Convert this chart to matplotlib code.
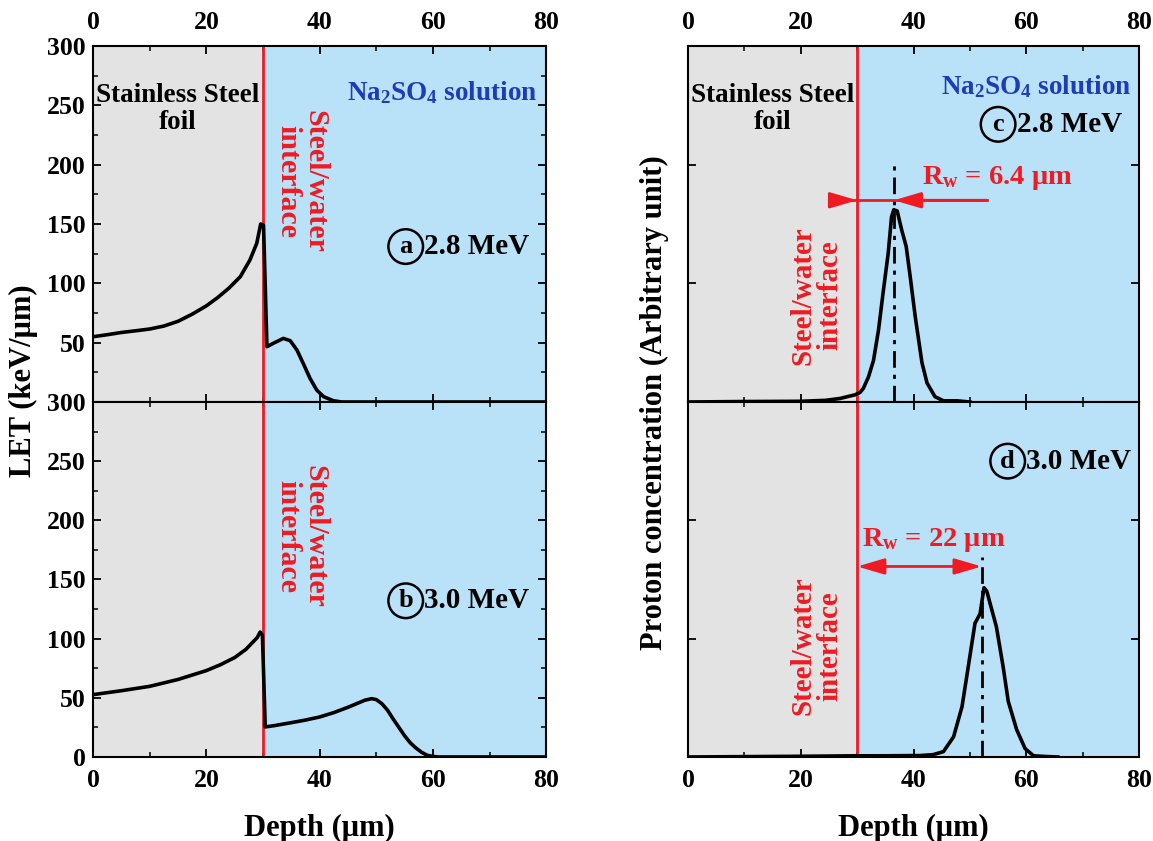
import numpy as np
import matplotlib.pyplot as plt
from matplotlib.ticker import MultipleLocator

plt.rcParams['font.family'] = ['Liberation Serif', 'DejaVu Serif']
plt.rcParams['font.weight'] = 'bold'
plt.rcParams['mathtext.fontset'] = 'custom'
plt.rcParams['mathtext.rm'] = 'Liberation Serif:bold'
plt.rcParams['mathtext.it'] = 'Liberation Serif:bold'
plt.rcParams['mathtext.bf'] = 'Liberation Serif:bold'
plt.rcParams['mathtext.default'] = 'bf'

# LET curves (keV/um) vs depth (um)
let_a_x = [0, 2.5, 5, 7.5, 10, 12.5, 15, 17.5, 20, 22, 24, 26, 27.7, 28.9, 29.6, 30.1, 30.7,
           31.8, 33.6, 34.8, 36.0, 37.1, 38.3, 39.5, 40.7, 42.4, 43.9, 80]
let_a_y = [55, 56.7, 58.6, 60, 61.5, 64, 68, 74, 81, 88, 96, 105.6, 119.7, 133.7, 150, 149, 46.6,
           49.4, 53.6, 51.7, 43.8, 32.6, 20, 10, 4.5, 1.1, 0, 0]
let_b_x = [0, 5, 10, 15, 20, 22.5, 25, 27, 28, 29, 29.5, 29.9, 30.4, 32, 35, 37.5, 40, 42.5, 45,
           47, 48, 49.2, 50, 51, 52, 53, 54, 55, 56, 57, 58, 59, 60, 61, 80]
let_b_y = [52.7, 56, 59.7, 65.5, 73, 78, 84, 91, 96, 101, 105.6, 103, 25.4, 26.5, 29, 31.2, 33.8, 37.5, 42,
           46, 48, 49.3, 48.5, 45, 39.5, 32, 25, 18, 12, 7.6, 4, 1.4, 0.5, 0, 0]

# proton concentration (arbitrary unit)
conc_c_x = [0, 10, 20, 24.4, 27.0, 28.7, 29.6, 30.5, 31.1, 32.0, 32.9, 33.8, 34.6, 35.5, 36.1, 36.5,
            37.1, 37.9, 38.7, 39.4, 40.3, 41.5, 42.4, 43.8, 45.3, 47.7, 50]
conc_c_y = [0, 0.004, 0.006, 0.014, 0.03, 0.05, 0.06, 0.08, 0.115, 0.21, 0.35, 0.61, 0.92, 1.25, 1.56, 1.62,
            1.61, 1.45, 1.31, 1.06, 0.72, 0.33, 0.16, 0.045, 0.01, 0.01, 0]
conc_d_x = [0, 10, 20, 30, 35, 40, 41.2, 43.5, 45.3, 47.1, 48.6, 49.7, 50.9, 51.8, 52.5, 53.0, 54.7,
            55.9, 56.8, 58.3, 59.8, 61.3, 63.5, 65.6]
conc_d_y = [0, 0.003, 0.006, 0.01, 0.01, 0.012, 0.012, 0.02, 0.045, 0.17, 0.425, 0.76, 1.13, 1.21, 1.43, 1.40,
            1.10, 0.76, 0.47, 0.23, 0.07, 0.01, 0.004, 0]

interface = 30
peak_c = 36.5
peak_d = 52.1
labels_let = [('a', '2.8 MeV'), ('b', '3.0 MeV')]
labels_conc = [('c', '2.8 MeV'), ('d', '3.0 MeV')]

gray = '#e3e3e3'
blue = '#b9e2f8'
red = '#f01a22'
navy = '#1f3cb8'

fig = plt.figure(figsize=(11.53, 8.41), dpi=100)
L, R = 0.0807, 0.5967
W = 0.393
ax_a = fig.add_axes([L, 0.522, W, 0.4233])
ax_b = fig.add_axes([L, 0.0999, W, 0.4221])
ax_c = fig.add_axes([R, 0.522, 0.3912, 0.4233])
ax_d = fig.add_axes([R, 0.0999, 0.3912, 0.4221])


def style(ax, top):
    ax.set_xlim(0, 80)
    ax.axvspan(0, interface, color=gray, zorder=0, lw=0)
    ax.axvspan(interface, 80, color=blue, zorder=0, lw=0)
    ax.axvline(interface, color=red, lw=2, zorder=2)
    ax.xaxis.set_major_locator(MultipleLocator(20))
    ax.xaxis.set_minor_locator(MultipleLocator(10))
    ax.tick_params(which='both', direction='in', top=True, right=True, bottom=True, left=True,
                   labelsize=18.5, labeltop=top, labelbottom=not top)
    ax.tick_params(axis='x', which='major', pad=9)
    ax.tick_params(axis='y', which='major', pad=5)
    ax.tick_params(which='major', length=6, width=1.3)
    ax.tick_params(which='minor', length=3.5, width=1.1)
    for s in ax.spines.values():
        s.set_linewidth(1.5)
    for lab in ax.get_xticklabels() + ax.get_yticklabels():
        lab.set_fontweight('bold')


def circled(ax, x, y, letter, txt):
    ax.text(x, y, letter, fontsize=19, ha='center', va='center', zorder=5,
            bbox=dict(boxstyle='circle,pad=0.22', fc='none', ec='black', lw=1.8))
    ax.text(x + 3.3, y, txt, fontsize=21, ha='left', va='center', zorder=5)


# LET panels
for ax, xs, ys, top, (let, en), ybadge in [(ax_a, let_a_x, let_a_y, True, labels_let[0], 131),
                                           (ax_b, let_b_x, let_b_y, False, labels_let[1], 132)]:
    style(ax, top)
    ax.plot(xs, ys, color='black', lw=2.6, zorder=3)
    ax.set_ylim(0, 300)
    ax.set_yticks(range(0, 301, 50))
    ax.yaxis.set_minor_locator(MultipleLocator(25))
    if top:
        ax.set_yticklabels([''] + [str(v) for v in range(50, 301, 50)])
    for lab in ax.get_yticklabels():
        lab.set_fontweight('bold')
    ax.text(36.8, 186, 'Steel/water\ninterface', fontsize=21.5, ha='center', va='center',
            rotation=-90, color=red, linespacing=1.0, zorder=5)
    circled(ax, 55.2, ybadge, let, en)

ax_a.text(15, 247, 'Stainless Steel\nfoil', fontsize=19.5, ha='center', va='center',
          linespacing=1.1, zorder=5)
ax_a.text(78.5, 261, 'Na$_2$SO$_4$ solution', fontsize=19.5, ha='right', va='center',
          color=navy, zorder=5)

fig.text(0.2771, 0.0155, 'Depth (μm)', fontsize=22, fontweight='bold', ha='center', va='center')
fig.text(0.0205, 0.547, 'LET (keV/μm)', rotation=90, fontsize=22, fontweight='bold',
         ha='center', va='center')

# proton concentration panels
for ax, xs, ys, top, (let, en), xb, yb, yint in [
        (ax_c, conc_c_x, conc_c_y, True, labels_conc[0], 55.0, 2.34, 0.90),
        (ax_d, conc_d_x, conc_d_y, False, labels_conc[1], 56.7, 2.5, 0.94)]:
    style(ax, top)
    ax.plot(xs, ys, color='black', lw=2.6, zorder=3)
    ax.set_ylim(0, 3)
    ax.set_yticks([0, 1, 2, 3])
    ax.set_yticklabels([])
    ax.text(22.8, yint, 'Steel/water\ninterface', fontsize=21, ha='center',
            va='center', rotation=90, color=red, linespacing=1.0, zorder=5)
    circled(ax, xb, yb, let, en)

ax_c.text(15, 2.47, 'Stainless Steel\nfoil', fontsize=19.5, ha='center', va='center',
          linespacing=1.1, zorder=5)
ax_c.text(78.6, 2.66, 'Na$_2$SO$_4$ solution', fontsize=19.5, ha='right', va='center',
          color=navy, zorder=5)

head = '-|>,head_length=0.75,head_width=0.22'
# range markers
ax_c.plot([peak_c, peak_c], [0, 2.01], color='black', lw=2, ls=(0, (6, 2.5, 1.5, 2.5)), zorder=4)
ax_c.plot([25.5, 53], [1.70, 1.70], color=red, lw=2, zorder=5)
ax_c.annotate('', xy=(interface, 1.70), xytext=(25.5, 1.70),
              arrowprops=dict(arrowstyle=head, color=red, lw=2, mutation_scale=22,
                              shrinkA=0, shrinkB=0), zorder=5)
ax_c.annotate('', xy=(peak_c, 1.70), xytext=(53, 1.70),
              arrowprops=dict(arrowstyle=head, color=red, lw=2, mutation_scale=22,
                              shrinkA=0, shrinkB=0), zorder=5)
ax_c.text(54.8, 1.89, 'R$_w$ = 6.4 μm', fontsize=20.5, color=red, ha='center', va='center', zorder=5)

ax_d.plot([peak_d, peak_d], [0, 1.69], color='black', lw=2, ls=(0, (6, 2.5, 1.5, 2.5)), zorder=4)
ax_d.annotate('', xy=(interface, 1.61), xytext=(peak_d, 1.61),
              arrowprops=dict(arrowstyle='<|-|>,head_length=0.75,head_width=0.22', color=red, lw=2,
                              mutation_scale=22, shrinkA=0, shrinkB=0), zorder=5)
ax_d.text(43.6, 1.83, 'R$_w$ = 22 μm', fontsize=20.5, color=red, ha='center', va='center', zorder=5)

fig.text(0.7923, 0.0155, 'Depth (μm)', fontsize=22, fontweight='bold', ha='center', va='center')
fig.text(0.568, 0.521, 'Proton concentration (Arbitrary unit)', rotation=90, fontsize=22,
         fontweight='bold', ha='center', va='center')

fig.savefig('out.png', dpi=100)
